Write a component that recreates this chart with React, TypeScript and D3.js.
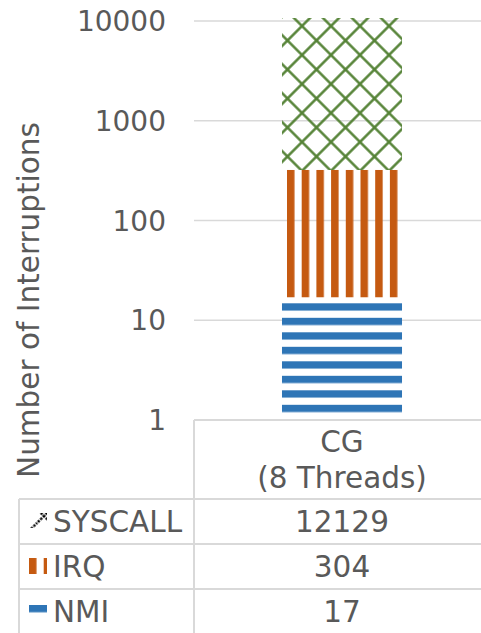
import React from 'react';
import * as d3 from 'd3';

// chart values
const categories = ['CG\n(8 Threads)'];
const seriesKeys = ['NMI', 'IRQ', 'SYSCALL'];
const nmiValues = [17];
const irqValues = [304];
const syscallValues = [12129];
const yTickValues = [1, 10, 100, 1000, 10000];

const colors: Record<string, string> = {
    NMI: '#2e75b6',
    IRQ: '#c55a11',
    SYSCALL: '#548235',
};

const W = 481;
const H = 633;
const FONT = '"DejaVu Sans", Verdana, sans-serif';
const TEXT = '#595959';
const LINE = '#d9d9d9';

const App: React.FC = () => {
    const rows = categories.map((c, i) => ({
        category: c,
        NMI: nmiValues[i],
        IRQ: irqValues[i],
        SYSCALL: syscallValues[i],
    }));
    const stacked = d3.stack<any>().keys(seriesKeys)(rows);

    const plotLeft = 194;
    const plotTop = 18;
    const y = d3.scaleLog().domain([1, 10000]).range([420, 21]);
    const x = d3.scaleBand<string>()
        .domain(categories)
        .range([plotLeft, 490])
        .padding(0.423);

    const tableTop = y(1);
    const rowTop = 499;
    const rowH = 45;
    const tableLeft = 19;
    const keyX = 29;
    const keyW = 18;
    const legendRows = [...seriesKeys].reverse();

    // lattice tile (rotated square grid)
    const P = 29;
    const s = P / Math.SQRT2;

    const firstBar = x(categories[0]) as number;

    return (
        <svg width={W} height={H} style={{ position: 'absolute', left: 0, top: 0, background: '#fff' }}
            fontFamily={FONT}>
            <defs>
                <clipPath id="plotClip">
                    <rect x={plotLeft} y={plotTop} width={W - plotLeft} height={y(1) - plotTop} />
                </clipPath>
                <pattern id="pNMI" patternUnits="userSpaceOnUse" x={0} y={303.3} width={10} height={14.5}>
                    <rect x={0} y={0} width={10} height={7.3} fill={colors.NMI} />
                </pattern>
                <pattern id="pIRQ" patternUnits="userSpaceOnUse" x={firstBar + 5} y={0} width={14.7} height={10}>
                    <rect x={0} y={0} width={7.5} height={10} fill={colors.IRQ} />
                </pattern>
                <pattern id="pSYSCALL" patternUnits="userSpaceOnUse" width={s} height={s}
                    patternTransform={`translate(${firstBar + 20},26) rotate(45) translate(${-s / 2},${-s / 2})`}>
                    <path d={`M0,${s / 2}H${s}M${s / 2},0V${s}`} stroke={colors.SYSCALL} strokeWidth={2.5} />
                </pattern>
                {/* legend key swatches */}
                <pattern id="kNMI" patternUnits="userSpaceOnUse" x={0} y={605} width={10} height={14.5}>
                    <rect x={0} y={0} width={10} height={7.3} fill={colors.NMI} />
                </pattern>
                <pattern id="kIRQ" patternUnits="userSpaceOnUse" x={keyX} y={0} width={14.7} height={10}>
                    <rect x={0} y={0} width={7.5} height={10} fill={colors.IRQ} />
                </pattern>
                <pattern id="kSYSCALL" patternUnits="userSpaceOnUse" width={s} height={s}
                    patternTransform={`translate(44,516) rotate(45) translate(${-s / 2},${-s / 2})`}>
                    <path d={`M0,${s / 2}H${s}M${s / 2},0V${s}`} stroke="#000" strokeWidth={2.4}
                        strokeDasharray="2.4 1.2" strokeDashoffset={1.5} />
                </pattern>
            </defs>

            {/* gridlines */}
            {yTickValues.filter(t => t > 1).map(t => (
                <line key={t} x1={plotLeft} x2={W} y1={y(t)} y2={y(t)} stroke={LINE} strokeWidth={1.5} />
            ))}

            {/* tick labels */}
            {yTickValues.map(t => (
                <text key={t} x={166} y={y(t)} dy="0.36em" textAnchor="end" fontSize={28} fill={TEXT}>
                    {t}
                </text>
            ))}

            {/* axis title */}
            <text transform="translate(39,300) rotate(-90)" textAnchor="middle" fontSize={29.5} fill={TEXT}>
                Number of Interruptions
            </text>

            {/* stacked bars */}
            <g clipPath="url(#plotClip)">
                {stacked.map(series => (
                    <g key={series.key} fill={`url(#p${series.key})`}>
                        {series.map((d, i) => (
                            <rect key={i}
                                x={x(d.data.category)}
                                width={x.bandwidth()}
                                y={y(d[1])}
                                height={y(Math.max(d[0], 1)) - y(d[1])} />
                        ))}
                    </g>
                ))}
            </g>

            {/* data table */}
            <g stroke={LINE} strokeWidth={2}>
                <line x1={plotLeft} x2={W} y1={tableTop} y2={tableTop} />
                <line x1={plotLeft} x2={plotLeft} y1={tableTop} y2={H} />
                <line x1={tableLeft} x2={tableLeft} y1={rowTop} y2={H} />
                {legendRows.map((k, i) => (
                    <line key={k} x1={tableLeft} x2={W} y1={rowTop + i * rowH} y2={rowTop + i * rowH} />
                ))}
            </g>

            {categories.map(c => {
                const cx = (x(c) as number) + x.bandwidth() / 2;
                return c.split('\n').map((ln, j) => (
                    <text key={c + j} x={cx} y={452 + j * 36} textAnchor="middle" fontSize={29.5} fill={TEXT}>
                        {ln}
                    </text>
                ));
            })}

            {legendRows.map((k, i) => {
                const cy = rowTop + i * rowH + rowH / 2;
                const vals = k === 'NMI' ? nmiValues : k === 'IRQ' ? irqValues : syscallValues;
                return (
                    <g key={k}>
                        {k === 'NMI' && <rect x={keyX} y={603} width={keyW} height={12} fill="url(#kNMI)" />}
                        {k === 'IRQ' && <rect x={keyX} y={558} width={keyW} height={16} fill="url(#kIRQ)" />}
                        {k === 'SYSCALL' && <rect x={keyX} y={513} width={keyW} height={15} fill="url(#kSYSCALL)" />}
                        <text x={53} y={cy} dy="0.36em" fontSize={29.5} fill={TEXT}>{k}</text>
                        {categories.map((c, ci) => (
                            <text key={c} x={(x(c) as number) + x.bandwidth() / 2} y={cy} dy="0.36em"
                                textAnchor="middle" fontSize={29.5} fill={TEXT}>
                                {vals[ci]}
                            </text>
                        ))}
                    </g>
                );
            })}
        </svg>
    );
};

export default App;
